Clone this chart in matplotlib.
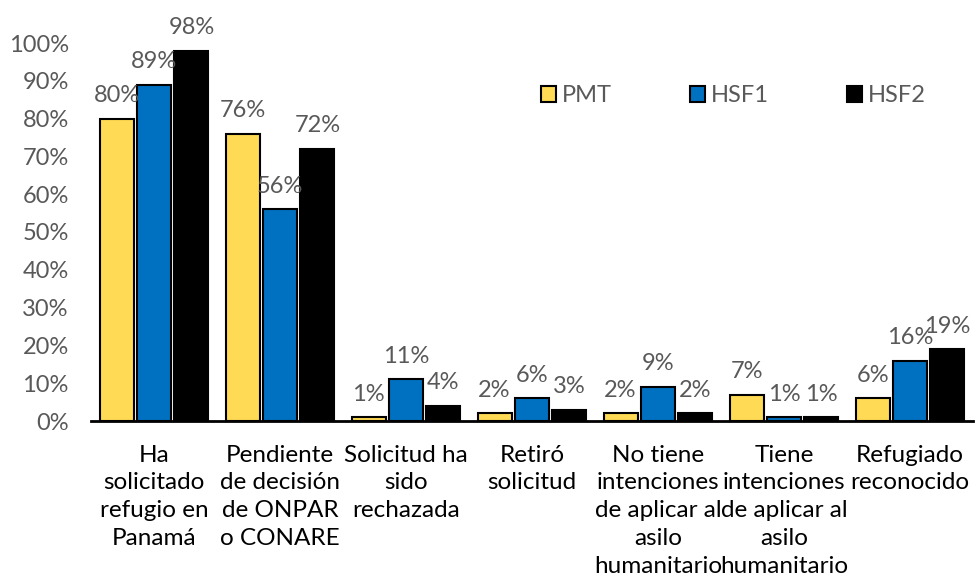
import matplotlib
matplotlib.use("Agg")
import matplotlib.pyplot as plt
import numpy as np

plt.rcParams['font.family'] = ['Lato', 'DejaVu Sans']

categories = [
    "Ha\nsolicitado\nrefugio en\nPanamá",
    "Pendiente\nde decisión\nde ONPAR\no CONARE",
    "Solicitud ha\nsido\nrechazada",
    "Retiró\nsolicitud",
    "No tiene\nintenciones\nde aplicar al\nasilo\nhumanitario",
    "Tiene\nintenciones\nde aplicar al\nasilo\nhumanitario",
    "Refugiado\nreconocido",
]
series_names = ["PMT", "HSF1", "HSF2"]
pmt = [80, 76, 1, 2, 2, 7, 6]
hsf1 = [89, 56, 11, 6, 9, 1, 16]
hsf2 = [98, 72, 4, 3, 2, 1, 19]
ytick_values = [0, 10, 20, 30, 40, 50, 60, 70, 80, 90, 100]
ytick_labels = ["0%", "10%", "20%", "30%", "40%", "50%", "60%", "70%", "80%", "90%", "100%"]

colors = ["#FFDA55", "#0070C0", "#000000"]
gray = "#595959"

fig = plt.figure(figsize=(9.76, 5.78), dpi=100)
ax = fig.add_axes([91/976, 1-421/578, 882/976, 378/578])

x = np.arange(len(categories))
width = 0.27
step = 0.297
all_series = [pmt, hsf1, hsf2]
for i, (name, vals, col) in enumerate(zip(series_names, all_series, colors)):
    pos = x + (i - 1) * step
    ax.bar(pos, vals, width, color=col, edgecolor="black", linewidth=1.5, label=name, zorder=2)
    for p, v in zip(pos, vals):
        ax.text(p, v + 4.4, f"{v}%", ha="center", va="baseline", fontsize=17, color=gray, clip_on=False)

ax.set_xlim(-0.5, len(categories) - 0.5)
ax.set_ylim(0, 100)
ax.set_yticks(ytick_values)
ax.set_yticklabels(ytick_labels, fontsize=17, color=gray)
ax.set_xticks(x)
ax.set_xticklabels(categories, fontsize=17.5, color="black", linespacing=1.4)
ax.tick_params(axis="y", length=0, pad=16)
ax.tick_params(axis="x", length=0, pad=17)
for s in ["top", "right", "left"]:
    ax.spines[s].set_visible(False)
ax.spines["bottom"].set_linewidth(2)
ax.spines["bottom"].set_color("black")

leg = ax.legend(loc="upper left", bbox_to_anchor=(0.499, 0.914), ncol=3, frameon=False,
                fontsize=17, handlelength=0.65, handleheight=0.65, handletextpad=0.25,
                columnspacing=3.3, borderaxespad=0)
for t in leg.get_texts():
    t.set_color(gray)

fig.savefig("out.png", dpi=100)
